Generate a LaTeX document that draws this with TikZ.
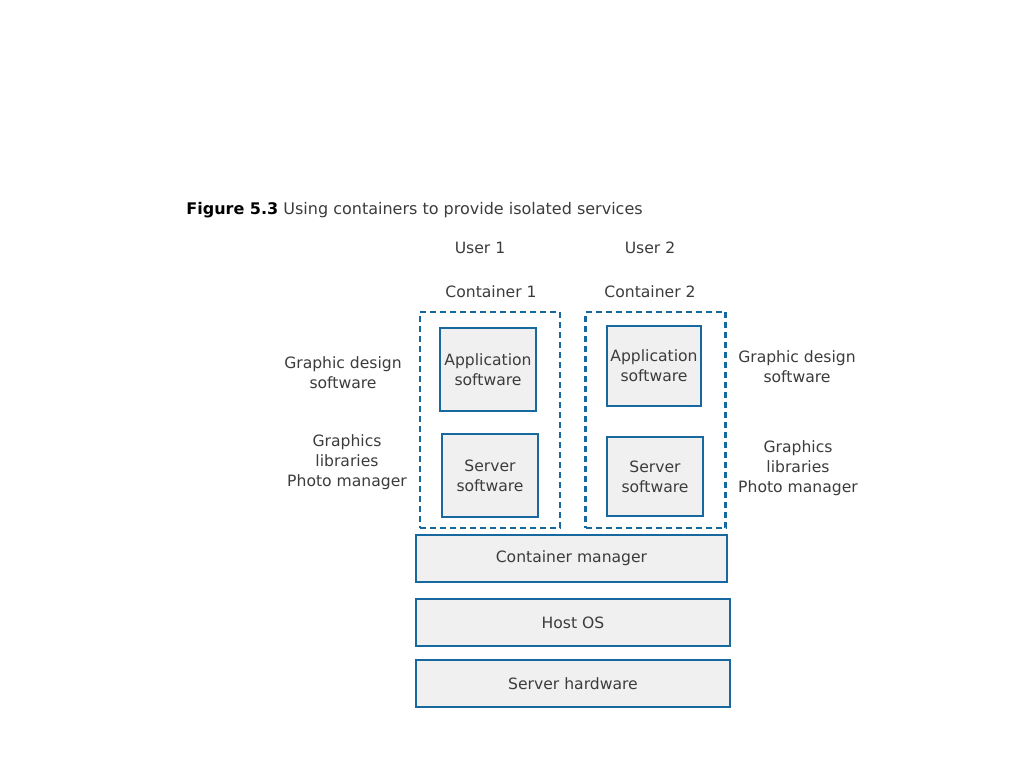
\documentclass[tikz,border=0pt]{standalone}
\usepackage{fontspec}
\setmainfont{DejaVu Sans}
\definecolor{boxblue}{RGB}{24,104,160}
\definecolor{boxfill}{RGB}{240,240,240}
\definecolor{txtgray}{RGB}{60,60,60}
\tikzset{
  layer/.style={draw=boxblue,line width=1.2pt,fill=boxfill,text=txtgray,minimum height=23.5pt,inner sep=0pt},
  swbox/.style={draw=boxblue,line width=1.2pt,fill=boxfill,text=txtgray,align=center,inner sep=0pt},
  container/.style={draw=boxblue,line width=1.1pt,dash pattern=on 3pt off 2pt,minimum width=70pt,minimum height=108pt,inner sep=0pt},
  lbl/.style={text=txtgray,align=center,inner sep=0pt}
}
\begin{document}
\begin{tikzpicture}[x=0.5pt,y=-0.5pt,font=\fontsize{7.8}{10}\selectfont]
\useasboundingbox[fill=white] (0,0) rectangle (1024,768);
% Title
\node[anchor=base west,inner sep=0pt,text=txtgray,font=\fontsize{8}{10}\selectfont] (title) at (186,214) {\textbf{\color{black}Figure 5.3} Using containers to provide isolated services};
% Users and containers
\node[lbl] (user1) at (480,248) {User 1};
\node[lbl] (user2) at (650,248) {User 2};
\node[lbl] (cname1) at (491,292) {Container 1};
\node[lbl] (cname2) at (650,292) {Container 2};
\node[container] (cont1) at (490,420) {};
\node[container] (cont2) at (655.5,420) {};
% Software boxes
\node[swbox,minimum width=48pt,minimum height=41.5pt] (app1) at (488,369.5) {Application\\software};
\node[swbox,minimum width=48pt,minimum height=41.5pt] (srv1) at (490,475.5) {Server\\software};
\node[swbox,minimum width=47pt,minimum height=40pt] (app2) at (654,366) {Application\\software};
\node[swbox,minimum width=48pt,minimum height=39.5pt] (srv2) at (655,476.5) {Server\\software};
% Layers
\node[layer,minimum width=155.5pt] (cmgr) at (571.5,558.5) {Container manager};
\node[layer,minimum width=157pt] (hostos) at (573,622.5) {Host OS};
\node[layer,minimum width=157pt] (hw) at (573,683.5) {Server hardware};
% Side labels
\node[lbl] (gd1) at (343,372.5) {Graphic design\\software};
\node[lbl] (gl1) at (347,462) {Graphics\\libraries\\Photo manager};
\node[lbl] (gd2) at (797,366.5) {Graphic design\\software};
\node[lbl] (gl2) at (798,468) {Graphics\\libraries\\Photo manager};
\end{tikzpicture}
\end{document}
